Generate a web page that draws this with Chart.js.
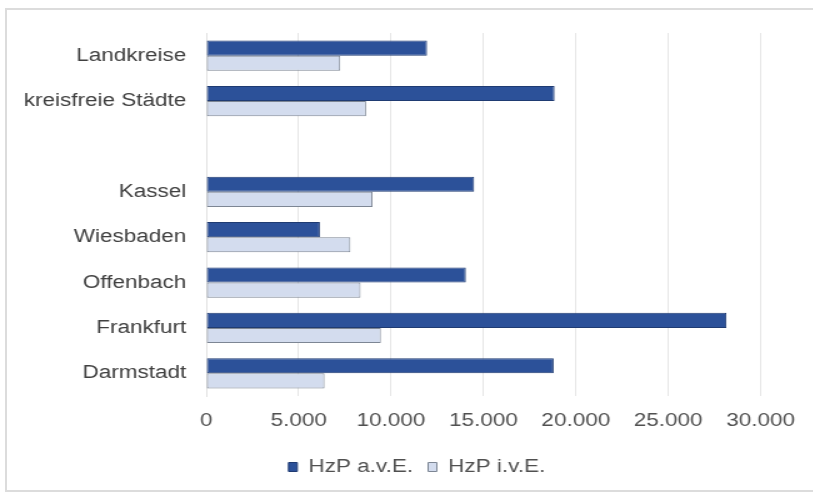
<!DOCTYPE html>
<html>
<head>
<meta charset="utf-8">
<script src="https://cdn.jsdelivr.net/npm/chart.js@4/dist/chart.umd.min.js"></script>
<style>
  html, body { margin: 0; padding: 0; background: #ffffff; }
  #page { position: relative; width: 813px; height: 496px; overflow: hidden; background: #fff; }
  #frame { position: absolute; left: 5px; top: 8px; width: 820px; height: 484px; border: 2px solid #dcdcdc; box-sizing: border-box; }
  #wrap { position: absolute; left: 0; top: 0; width: 650px; height: 496px; transform: scaleX(1.25); transform-origin: 0 0; }
</style>
</head>
<body>
<div id="page">
  <div id="frame"></div>
  <div id="wrap"><canvas id="c" width="650" height="496"></canvas></div>
</div>
<script>
const categories = ["Landkreise", "kreisfreie Städte", "", "Kassel", "Wiesbaden", "Offenbach", "Frankfurt", "Darmstadt"];
const seriesNames = ["HzP a.v.E.", "HzP i.v.E."];
const hzpAvE = [11950, 18850, null, 14500, 6150, 14050, 28150, 18800];
const hzpIvE = [7250, 8650, null, 9000, 7800, 8350, 9450, 6400];
const xTicks = [0, 5000, 10000, 15000, 20000, 25000, 30000];

function fmt(v) {
  return String(v).replace(/\B(?=(\d{3})+(?!\d))/g, ".");
}

const FONT = { family: "'Liberation Sans', Arial, sans-serif", size: 18 };

const legendShift = {
  id: 'legendShift',
  afterLayout(chart) {
    const l = chart.legend;
    if (l) { l.left += 28; l.right += 28; }
  }
};

new Chart(document.getElementById('c'), {
  type: 'bar',
  data: {
    labels: categories,
    datasets: [
      { label: seriesNames[0], data: hzpAvE, backgroundColor: '#2c5199', borderColor: '#1f3b72', borderWidth: 1, borderSkipped: false },
      { label: seriesNames[1], data: hzpIvE, backgroundColor: '#d3dcee', borderColor: '#7d8694', borderWidth: 1, borderSkipped: false }
    ]
  },
  plugins: [legendShift],
  options: {
    indexAxis: 'y',
    responsive: false,
    animation: false,
    devicePixelRatio: 1,
    layout: { padding: { left: 0, right: 39, top: 33, bottom: 10 } },
    datasets: { bar: { categoryPercentage: 0.667, barPercentage: 1.0 } },
    scales: {
      x: {
        min: 0, max: 30000,
        afterBuildTicks: (s) => { s.ticks = xTicks.map(v => ({ value: v })); },
        afterFit: (s) => { s.height = 50; },
        ticks: { color: '#505050', font: FONT, padding: 14, maxRotation: 0, callback: (v) => fmt(v) },
        grid: { color: '#e6e6e6', lineWidth: 1, drawTicks: false },
        border: { display: false }
      },
      y: {
        afterFit: (s) => { s.width = 165; },
        ticks: { color: '#404040', font: FONT, padding: 16, autoSkip: false },
        grid: { display: false, drawTicks: false },
        border: { display: true, color: '#e0e0e0', width: 1 }
      }
    },
    plugins: {
      legend: {
        position: 'bottom',
        labels: {
          color: '#505050',
          font: FONT,
          boxWidth: 7,
          boxHeight: 9,
          padding: 12,
          generateLabels: (chart) => chart.data.datasets.map((d, i) => ({
            text: d.label,
            fillStyle: d.backgroundColor,
            strokeStyle: d.borderColor,
            lineWidth: 1,
            fontColor: '#505050',
            datasetIndex: i,
            hidden: false
          }))
        }
      },
      tooltip: { enabled: false }
    }
  }
});
</script>
</body>
</html>
